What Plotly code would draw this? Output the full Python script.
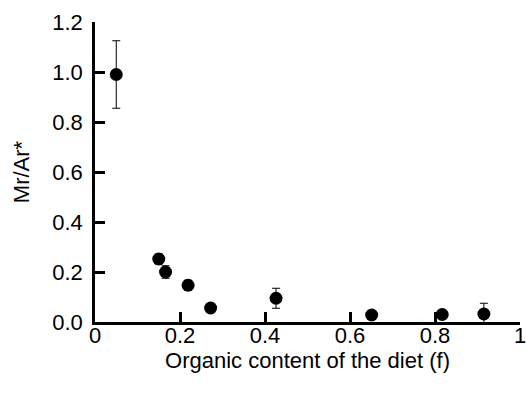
import plotly.graph_objects as go

# Organic content of the diet (f) and the Mr/Ar* ratio with its error
organic_f = [0.05, 0.15, 0.166, 0.219, 0.272, 0.426, 0.651, 0.817, 0.915]
mr_ar = [0.99, 0.252, 0.20, 0.147, 0.056, 0.095, 0.028, 0.03, 0.032]
mr_ar_err = [0.135, 0.02, 0.025, 0.02, 0.01, 0.04, 0.006, 0.01, 0.043]

x_ticks = [0, 0.2, 0.4, 0.6, 0.8, 1.0]
x_tick_text = ["0", "0.2", "0.4", "0.6", "0.8", "1"]
y_ticks = [0.0, 0.2, 0.4, 0.6, 0.8, 1.0, 1.2]
y_tick_text = ["0.0", "0.2", "0.4", "0.6", "0.8", "1.0", "1.2"]

fig = go.Figure(
    go.Scatter(
        x=organic_f,
        y=mr_ar,
        mode="markers",
        marker=dict(color="black", size=13),
        error_y=dict(type="data", array=mr_ar_err, visible=True,
                     color="black", thickness=1, width=4),
        cliponaxis=False,
    )
)

family = "Liberation Sans, Arial, sans-serif"
font = dict(family=family, size=22, color="black")

fig.update_layout(
    width=526,
    height=393,
    margin=dict(l=95, r=6, t=22, b=71),
    paper_bgcolor="white",
    plot_bgcolor="white",
    showlegend=False,
    font=font,
    xaxis=dict(
        range=[0, 1],
        automargin=False,
        tickvals=x_ticks,
        ticktext=x_tick_text,
        tickfont=font,
        ticklabeloverflow="allow",
        ticks="inside",
        ticklen=10,
        tickwidth=2.5,
        tickcolor="black",
        ticklabelstandoff=-8,
        showline=True,
        linewidth=2.5,
        linecolor="black",
        showgrid=False,
        zeroline=False,
        title=dict(text="Organic content of the diet (f)", font=font, standoff=0),
    ),
    yaxis=dict(
        range=[0, 1.2],
        automargin=False,
        tickvals=y_ticks,
        ticktext=y_tick_text,
        tickfont=font,
        ticklabeloverflow="allow",
        ticks="inside",
        ticklen=10,
        tickwidth=2.5,
        tickcolor="black",
        ticklabelstandoff=5,
        showline=True,
        linewidth=2.5,
        linecolor="black",
        showgrid=False,
        zeroline=False,
        title=dict(text="Mr/Ar*", font=font, standoff=17),
    ),
)

fig.write_html("out.html")
